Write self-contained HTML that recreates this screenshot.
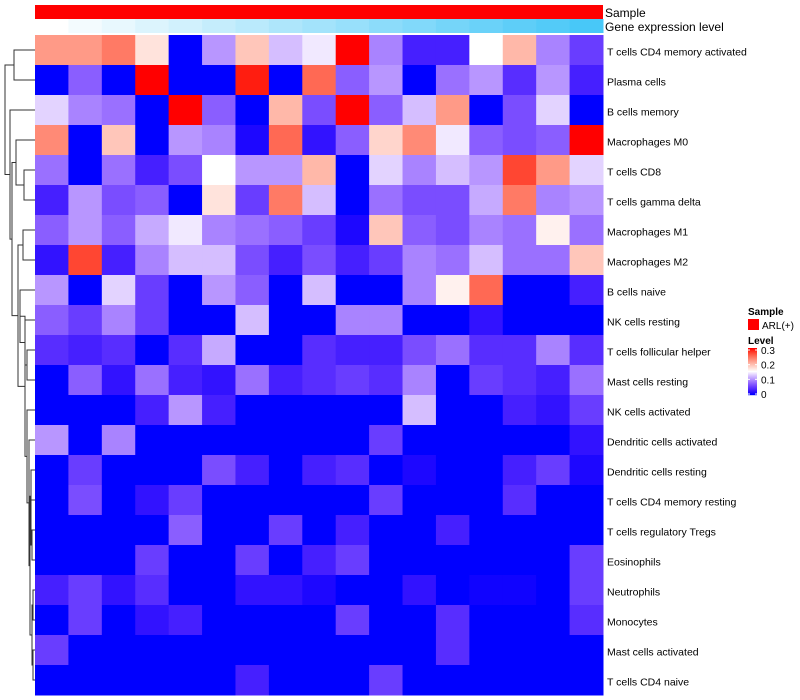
<!DOCTYPE html>
<html><head><meta charset="utf-8"><style>
body{margin:0;background:#fff}
svg{display:block;font-family:"Liberation Sans",sans-serif}
</style></head><body>
<svg id="c" width="800" height="700"></svg>
<script>
const rowLabels=["T cells CD4 memory activated","Plasma cells","B cells memory","Macrophages M0","T cells CD8","T cells gamma delta","Macrophages M1","Macrophages M2","B cells naive","NK cells resting","T cells follicular helper","Mast cells resting","NK cells activated","Dendritic cells activated","Dendritic cells resting","T cells CD4 memory resting","T cells regulatory  Tregs","Eosinophils","Neutrophils","Monocytes","Mast cells activated","T cells CD4 naive"];
const geneLevel=[0,1,2,3,4,5,6,7,8,9,10,11,12,13,14,15,16];
const values=[
[.22,.22,.24,.17,0,.1,.19,.12,.14,.3,.09,.03,.03,.15,.2,.09,.05],
[0,.07,0,.3,0,0,.29,0,.25,.07,.1,0,.08,.1,.04,.1,.03],
[.13,.09,.08,0,.3,.07,0,.2,.06,.3,.07,.12,.22,0,.06,.13,0],
[.23,0,.19,0,.1,.09,.01,.25,.02,.07,.18,.23,.14,.07,.06,.07,.3],
[.08,0,.08,.03,.06,.15,.1,.1,.2,0,.13,.09,.12,.1,.27,.22,.13],
[.03,.1,.06,.07,0,.17,.05,.24,.12,0,.08,.06,.06,.11,.24,.09,.1],
[.07,.1,.07,.11,.14,.09,.08,.07,.05,.01,.19,.07,.06,.09,.08,.16,.08],
[.02,.27,.03,.09,.12,.12,.06,.03,.06,.03,.05,.09,.08,.12,.08,.08,.19],
[.1,0,.13,.05,0,.1,.07,0,.12,0,0,.09,.16,.25,0,0,.03],
[.07,.05,.09,.05,0,0,.12,0,0,.09,.09,0,0,.02,0,0,0],
[.04,.03,.04,0,.04,.11,0,0,.04,.03,.03,.06,.08,.04,.04,.09,.04],
[0,.07,.02,.08,.03,.02,.08,.03,.04,.05,.04,.09,0,.05,.04,.03,.08],
[0,0,0,.03,.1,.03,0,0,0,0,0,.12,0,0,.03,.02,.05],
[.1,0,.09,0,0,0,0,0,0,0,.05,0,0,0,0,0,.02],
[0,.05,0,0,0,.06,.03,0,.03,.04,0,.01,0,0,.03,.05,.01],
[0,.06,0,.02,.05,0,0,0,0,0,.05,0,0,0,.04,0,0],
[0,0,0,0,.07,0,0,.05,0,.03,0,0,.03,0,0,0,0],
[0,0,0,.05,0,0,.05,0,.03,.05,0,0,0,0,0,0,.05],
[.03,.05,.02,.04,0,0,.02,.02,.01,0,0,.02,0,.005,.005,0,.05],
[0,.05,0,.02,.03,0,0,0,0,.05,0,0,.04,0,0,0,.04],
[.05,0,0,0,0,0,0,0,0,0,0,0,.04,0,0,0,0],
[0,0,0,0,0,0,.03,0,0,0,.05,0,0,0,0,0,0]];
const merges=[["r0","r1",14],["r4","r5",24],["r3","m1",16],["r6","r7",23],["r10","r11",27],["r9","m4",25],["r8","m5",20],["r20","r21",33],["r18","r19",33],["m8","m7",32],["r16","r17",32],["r15","m10",31],["r14","m11",31],["m12","m9",30],["r13","m13",29],["r12","m14",27],["m6","m15",25],["m3","m16",18],["m2","m17",12],["r2","m18",10],["m0","m19",5]];

const NS="http://www.w3.org/2000/svg",svg=document.getElementById('c');
function mk(t,a,p){const e=document.createElementNS(NS,t);for(const k in a)e.setAttribute(k,a[k]);(p||svg).appendChild(e);return e;}
const X0=35,Y0=35,CW=(603-35)/17,RH=30,vmax=0.3;
const xs=i=>X0+i*CW, ys=j=>Y0+j*RH;
function col(v){let t=Math.max(0,Math.min(1,v/vmax));let r,g,b;
 if(t<0.5){const s=t/0.5;r=255*Math.pow(s,0.8);g=255*Math.pow(s,1.3);b=255;}
 else{const s=(t-0.5)/0.5;r=255;g=255*Math.pow(1-s,0.8);b=255*(1-s);}
 return `rgb(${r|0},${g|0},${b|0})`;}
function gcol(l){const t=l/16;return `rgb(${(255-183*t)|0},${(255-55*t)|0},${(255-7*t)|0})`;}
const s=mk('rect',{x:X0,y:5,width:603-X0,height:14,fill:'#ff0000'});

geneLevel.forEach((l,i)=>{const r=mk('rect',{x:xs(i),y:19,width:CW+0.5,height:14,fill:gcol(l)});

});
let t=mk('text',{x:605,y:17,'font-size':12,fill:'#000'});t.textContent='Sample';

t=mk('text',{x:605,y:31,'font-size':12,fill:'#000'});t.textContent='Gene expression level';

values.forEach((row,j)=>row.forEach((v,i)=>{const r=mk('rect',{x:xs(i),y:ys(j),width:CW+0.5,height:RH+0.5,fill:col(v)});

}));
rowLabels.forEach((n,j)=>{const e=mk('text',{x:607,y:ys(j)+RH/2+5.5,'font-size':10.5,fill:'#000'});e.textContent=n;

});
const pos={};rowLabels.forEach((n,j)=>pos['r'+j]={y:ys(j)+RH/2,x:35});
const dg=mk('g',{stroke:'#333','stroke-width':1,fill:'none'});

merges.forEach((m,k)=>{const a=pos[m[0]],b=pos[m[1]],x=m[2];
 mk('path',{d:`M${a.x},${a.y}H${x}V${b.y}H${b.x}`},dg);
 pos['m'+k]={x:x,y:(a.y+b.y)/2};});
t=mk('text',{x:748,y:315,'font-size':10,'font-weight':'bold'});t.textContent='Sample';

const lr=mk('rect',{x:748,y:319,width:11,height:11,fill:'#ff0000'});

t=mk('text',{x:762,y:329,'font-size':10});t.textContent='ARL(+)';

t=mk('text',{x:748,y:344,'font-size':10,'font-weight':'bold'});t.textContent='Level';

const cb=mk('g',{});
const cbTop=348,cbBot=394;
for(let k=0;k<=46;k++){const v=vmax*(1-k/46);mk('rect',{x:748,y:cbTop+k,width:9,height:1.2,fill:col(v)},cb);}
const ticks=[0,0.1,0.2,0.3],tickLabels=["0","0.1","0.2","0.3"];
ticks.forEach((v,k)=>{const y=cbBot-(v/vmax)*(cbBot-cbTop-2);
 mk('line',{x1:748,x2:750,y1:y,y2:y,stroke:'#fff'},cb);mk('line',{x1:755,x2:757,y1:y,y2:y,stroke:'#fff'},cb);
 const e=mk('text',{x:761,y:y+4,'font-size':10});e.textContent=tickLabels[k];
 
 });
</script>
</body></html>
